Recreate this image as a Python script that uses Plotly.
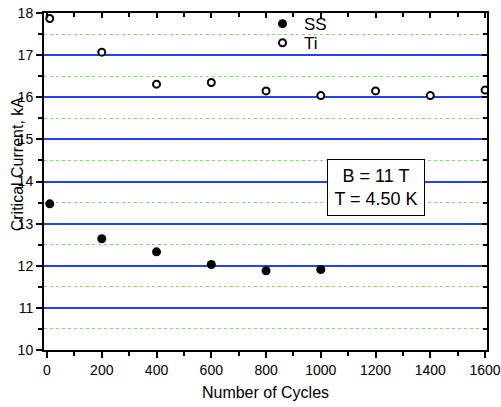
import plotly.graph_objects as go

# Critical current versus number of load cycles, B = 11 T, T = 4.50 K
ss_cycles = [10, 200, 400, 600, 800, 1000]
ss_current = [13.47, 12.64, 12.33, 12.03, 11.88, 11.91]

ti_cycles = [10, 200, 400, 600, 800, 1000, 1200, 1400, 1600]
ti_current = [17.87, 17.07, 16.31, 16.35, 16.15, 16.04, 16.15, 16.04, 16.17]

x_range = [-11, 1607]
y_range = [10, 18]
FONT = "Liberation Sans, Arial, sans-serif"

fig = go.Figure()
fig.add_trace(go.Scatter(
    x=ss_cycles, y=ss_current, mode="markers", name="SS", legend="legend",
    marker=dict(symbol="circle", size=9, color="black"),
))
fig.add_trace(go.Scatter(
    x=ti_cycles, y=ti_current, mode="markers", name="Ti", legend="legend2",
    marker=dict(symbol="circle", size=7, color="white",
                line=dict(color="black", width=2)),
))

legend_style = dict(xref="container", yref="container", xanchor="left",
                    yanchor="top", bgcolor="rgba(0,0,0,0)",
                    font=dict(size=17), itemwidth=33)

fig.update_layout(
    width=501, height=407,
    margin=dict(l=44, r=14, t=13, b=57, autoexpand=False),
    paper_bgcolor="white", plot_bgcolor="white",
    font=dict(family=FONT, size=14, color="black"),
    showlegend=True,
    legend=dict(x=0.521, y=0.985, **legend_style),
    legend2=dict(x=0.521, y=0.938, **legend_style),
    xaxis=dict(
        range=x_range, dtick=200, tick0=0, automargin=False,
        showline=True, linecolor="black", linewidth=2,
        ticks="outside", ticklen=6, tickwidth=1.5, tickcolor="black",
        showgrid=False, zeroline=False,
        minor=dict(dtick=100, ticks="outside", ticklen=4, tickcolor="black",
                   showgrid=False),
        title=dict(text="Number of Cycles", font=dict(size=16), standoff=10),
        tickfont=dict(size=14),
    ),
    yaxis=dict(
        range=y_range, dtick=1, tick0=10, automargin=False,
        showline=True, linecolor="black", linewidth=2,
        ticks="outside", ticklen=6, tickwidth=1.5, tickcolor="black",
        showgrid=True, gridcolor="#2244ee", gridwidth=1.5,
        zeroline=False,
        minor=dict(dtick=0.5, ticks="outside", ticklen=4, tickcolor="black",
                   showgrid=True, gridcolor="#6ee85a", griddash="dot",
                   gridwidth=1),
        tickfont=dict(size=14),
    ),
    # top and right frame with inward ticks
    xaxis2=dict(
        range=x_range, dtick=200, tick0=0, overlaying="x", side="top",
        anchor="y", automargin=False, showline=True, linecolor="black",
        linewidth=2, ticks="inside", ticklen=5, tickwidth=1.5,
        tickcolor="black", showticklabels=False, showgrid=False,
        zeroline=False,
        minor=dict(dtick=100, ticks="inside", ticklen=4, tickcolor="black",
                   showgrid=False),
    ),
    yaxis2=dict(
        range=y_range, dtick=1, tick0=10, overlaying="y", side="right",
        anchor="x", automargin=False, showline=True, linecolor="black",
        linewidth=2, ticks="inside", ticklen=5, tickwidth=1.5,
        tickcolor="black", showticklabels=False, showgrid=False,
        zeroline=False,
        minor=dict(dtick=0.5, ticks="inside", ticklen=4, tickcolor="black",
                   showgrid=False),
    ),
    annotations=[
        dict(text="Critical Current, kA", textangle=-90,
             xref="paper", yref="paper", x=-0.058, y=0.552,
             xanchor="center", yanchor="middle", showarrow=False,
             font=dict(size=16)),
        dict(text="B = 11 T<br>T = 4.50 K", x=1202, y=13.86,
             xref="x", yref="y", showarrow=False,
             font=dict(size=18), align="center", width=90, height=49,
             bordercolor="black", borderwidth=1, borderpad=3,
             bgcolor="white"),
    ],
)

# invisible carrier so the top/right frame axes are drawn
fig.add_trace(go.Scatter(x=[None], y=[None], xaxis="x2", yaxis="y2",
                         showlegend=False, hoverinfo="skip"))

fig.write_html("out.html")
